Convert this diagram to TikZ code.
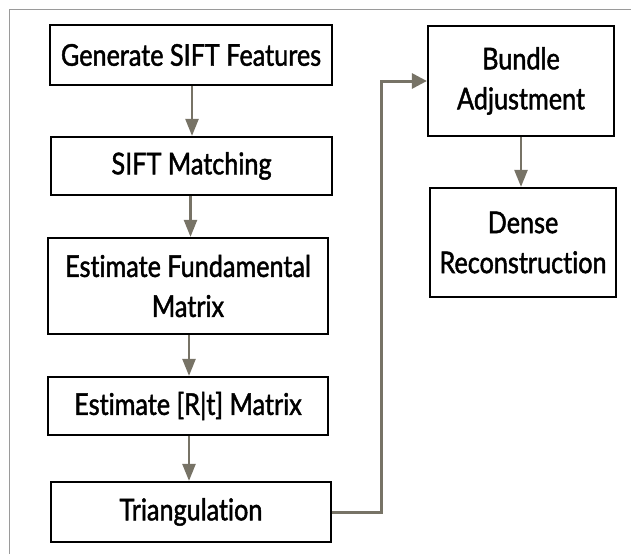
\documentclass[tikz,border=0pt]{standalone}
\usepackage{fontspec}
\setmainfont{Lato}[FakeStretch=0.84,FakeBold=1.5,Ligatures=NoCommon]
\usetikzlibrary{arrows.meta}
\definecolor{arrcol}{HTML}{777366}
\definecolor{framecol}{HTML}{9A9A9A}
\tikzset{
  box/.style={draw=black, line width=2.2pt, fill=white, align=center, inner sep=0pt,
    font=\fontsize{30}{40}\selectfont},
  flow/.style={draw=arrcol, line width=2.4pt, -{Triangle[length=17pt,width=13pt]}},
  conn/.style={draw=arrcol, line width=3pt, -{Triangle[length=15pt,width=15pt]}},
}
\begin{document}
\begin{tikzpicture}[x=1pt,y=-1pt]
\useasboundingbox (0,0) rectangle (631,554);
\draw[framecol, line width=1pt] (9,554) -- (9,9) -- (631,9);
\node[box, minimum width=282pt, minimum height=60pt] (gen) at (191,55) {Generate SIFT Features};
\node[box, minimum width=281pt, minimum height=58pt] (match) at (191.5,166) {SIFT Matching};
\node[box, minimum width=280pt, minimum height=96pt] (fund) at (188,286) {Estimate Fundamental\\Matrix};
\node[box, minimum width=280pt, minimum height=58pt] (rt) at (188,406) {Estimate [R|t] Matrix};
\node[box, minimum width=280pt, minimum height=60pt] (tri) at (191,512) {Triangulat\kern0pt ion};
\node[box, minimum width=186pt, minimum height=110pt] (bundle) at (521,81) {Bundle\\Adjustment};
\node[box, minimum width=186pt, minimum height=109pt] (dense) at (523,242.5) {Dense\\Reconstruction};
\draw[flow] ([xshift=1pt]gen.south) -- ([xshift=1pt]gen.south |- match.north);
\draw[flow] ([xshift=-1pt]match.south) -- ([xshift=-1pt]match.south |- fund.north);
\draw[flow] ([xshift=1pt]fund.south) -- ([xshift=1pt]fund.south |- rt.north);
\draw[flow] ([xshift=1pt]rt.south) -- ([xshift=1pt]rt.south |- tri.north);
\draw[flow] (bundle.south) -- (bundle.south |- dense.north);
\draw[conn] (tri.east) -- ++(49,0) |- (bundle.west);
\end{tikzpicture}
\end{document}
